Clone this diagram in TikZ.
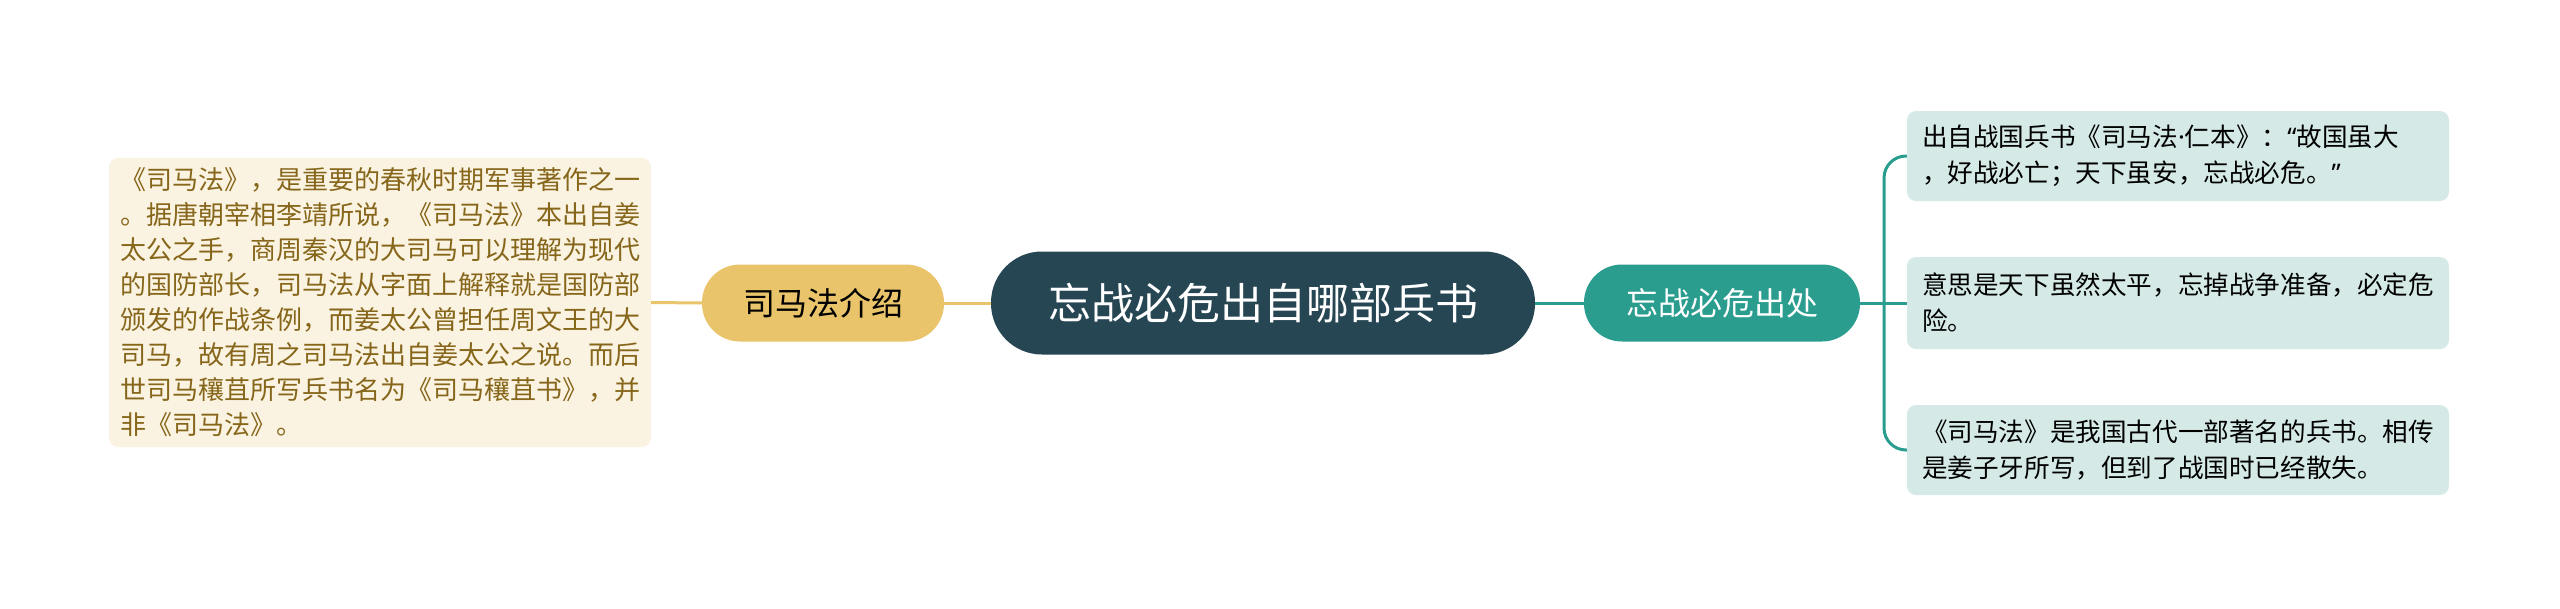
\documentclass[tikz,border=0pt]{standalone}
\usepackage{fontspec}
\setmainfont{Noto Sans CJK SC}
\newfontfamily\latinfont{Noto Sans}
\usetikzlibrary{positioning}
\definecolor{rootblue}{HTML}{264653}
\definecolor{sandy}{HTML}{E9C46A}
\definecolor{mintteal}{HTML}{2A9D8F}
\definecolor{paleteal}{HTML}{D5EAE7}
\definecolor{cream}{HTML}{FBF3E1}
\definecolor{notebrown}{HTML}{86661A}
\tikzset{rootnode/.style={fill=rootblue,text=white,rounded corners=51pt,minimum width=544pt,minimum height=103pt,font=\fontsize{43}{50}\selectfont}}
\tikzset{topic/.style={rounded corners=38pt,minimum height=77pt,font=\fontsize{32}{38}\selectfont}}
\tikzset{note/.style={rounded corners=9pt,align=left,inner ysep=0pt}}
\tikzset{linkl/.style={draw=sandy,line width=3pt}}
\tikzset{linkr/.style={draw=mintteal,line width=3pt}}

\begin{document}
\begin{tikzpicture}[x=1pt,y=-1pt]

	\useasboundingbox (0,0) rectangle (2560,608);

	%% Centre and the two topics
	\node[rootnode] (root) at (1263,303) {忘战必危出自哪部兵书};
	\node[topic,fill=sandy,minimum width=242pt] (intro) at (823,303) {司马法介绍};
	\node[topic,fill=mintteal,text=white,minimum width=276pt] (origin) at (1722,303) {忘战必危出处};

	%% Left note
	\node[note,fill=cream,text=notebrown,text width=520pt,inner xsep=11pt,minimum height=289pt,
		font=\fontsize{26}{35}\selectfont] (introtext) at (380,302.5) {《司马法》，是重要的春秋时期军事著作之一\\
。据唐朝宰相李靖所说，《司马法》本出自姜\\
太公之手，商周秦汉的大司马可以理解为现代\\
的国防部长，司马法从字面上解释就是国防部\\
颁发的作战条例，而姜太公曾担任周文王的大\\
司马，故有周之司马法出自姜太公之说。而后\\
世司马穰苴所写兵书名为《司马穰苴书》，并\\
非《司马法》。};

	%% Right notes
	\node[note,fill=paleteal,text width=512pt,inner xsep=15pt,minimum height=90pt,
		font=\fontsize{25.6}{36}\selectfont] (src) at (2178,156) {出自战国兵书《司马法{\latinfont ·}仁本》：{\latinfont “}故国虽大\\
，好战必亡；天下虽安，忘战必危。{\latinfont ”}};
	\node[note,fill=paleteal,text width=512pt,inner xsep=15pt,minimum height=92pt,
		font=\fontsize{25.6}{36}\selectfont] (meaning) at (2178,303) {意思是天下虽然太平，忘掉战争准备，必定危\\
险。};
	\node[note,fill=paleteal,text width=512pt,inner xsep=15pt,minimum height=90pt,
		font=\fontsize{25.6}{36}\selectfont] (lost) at (2178,450) {《司马法》是我国古代一部著名的兵书。相传\\
是姜子牙所写，但到了战国时已经散失。};

	%% Connectors
	\draw[linkl] (root.west) -- (intro.east);
	\draw[linkl] (intro.west) -- (introtext.east);
	\draw[linkr] (root.east) -- (origin.west);
	\coordinate (fork) at (1884,303);
	\draw[linkr] (origin.east) -- (fork) -- (meaning.west);
	\draw[linkr,rounded corners=22pt] (fork) |- (src.west);
	\draw[linkr,rounded corners=22pt] (fork) |- (lost.west);

\end{tikzpicture}
\end{document}
